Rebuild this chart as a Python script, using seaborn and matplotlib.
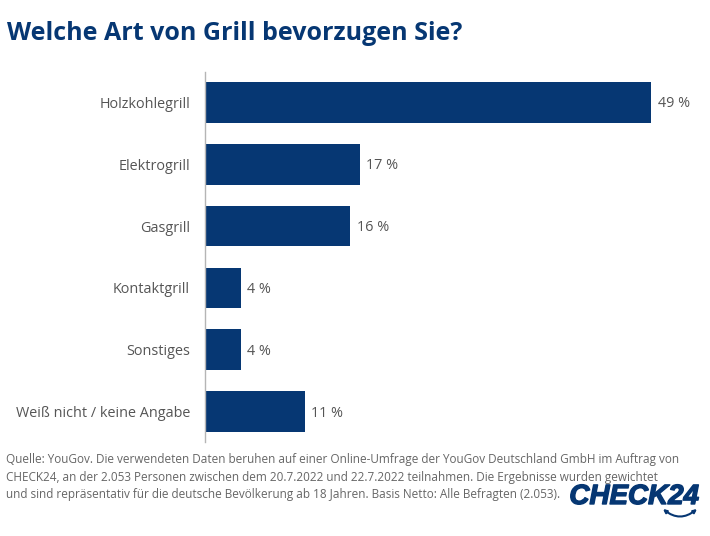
import matplotlib
matplotlib.use("Agg")
import matplotlib.pyplot as plt
import matplotlib.patheffects as pe
from matplotlib.patches import FancyArrowPatch
import pandas as pd
import seaborn as sns

kategorien = ["Holzkohlegrill", "Elektrogrill", "Gasgrill", "Kontaktgrill", "Sonstiges", "Weiß nicht / keine Angabe"]
anteile = [49, 17, 16, 4, 4, 11]
titel = "Welche Art von Grill bevorzugen Sie?"
quelle = [
    "Quelle: YouGov. Die verwendeten Daten beruhen auf einer Online-Umfrage der YouGov Deutschland GmbH im Auftrag von",
    "CHECK24, an der 2.053 Personen zwischen dem 20.7.2022 und 22.7.2022 teilnahmen. Die Ergebnisse wurden gewichtet",
    "und sind repräsentativ für die deutsche Bevölkerung ab 18 Jahren. Basis Netto: Alle Befragten (2.053).",
]

BLAU = "#063773"
GRAU = "#555555"

sns.set_style("white")
plt.rcParams["font.family"] = ["Open Sans", "DejaVu Sans"]

daten = pd.DataFrame({"kategorie": kategorien, "anteil": anteile})

B, H = 710, 536
fig = plt.figure(figsize=(B / 100, H / 100), dpi=100)
ax = fig.add_axes([204.5 / B, 1 - 442 / H, (B - 204.5) / B, 370 / H])
sns.barplot(data=daten, y="kategorie", x="anteil", color=BLAU, saturation=1, width=0.66, linewidth=0, ax=ax)

ax.set_xlim(0, (B - 204.5) / 9.12)
ax.set_ylim(5.49, -0.49)
ax.set_xlabel("")
ax.set_ylabel("")
ax.xaxis.set_visible(False)
ax.tick_params(axis="y", length=0, pad=10.5, labelsize=10.4, labelcolor=GRAU)
ax.patch.set_alpha(0)
sns.despine(ax=ax, top=True, right=True, bottom=True)
ax.spines["left"].set_color("#b5b5b5")
ax.spines["left"].set_linewidth(1.0)

for i, wert in enumerate(anteile):
    ax.annotate(f"{wert} %", (wert, i), xytext=(4.5, -1), textcoords="offset points",
                va="center", ha="left", fontsize=10.4, color=GRAU)

fig.text(7 / B, 1 - 33 / H, titel, fontsize=18, fontweight="bold", color=BLAU, va="center", ha="left")

for zeile, y in zip(quelle, [459.5, 477.5, 494.5]):
    fig.text(6 / B, 1 - y / H, zeile, fontsize=8.5, color="#666666", va="center", ha="left")

# Logo
fig.text(634 / B, 1 - 497 / H, "CHECK24", fontsize=20, fontweight="bold", fontstyle="italic",
         family="Liberation Sans", color=BLAU, va="center", ha="center",
         path_effects=[pe.withStroke(linewidth=1.0, foreground=BLAU)])
bogen = FancyArrowPatch((663 / B, 1 - 509 / H), (697 / B, 1 - 509 / H), transform=fig.transFigure,
                        connectionstyle="arc3,rad=0.4", arrowstyle="<|-|>", mutation_scale=5,
                        shrinkA=0, shrinkB=0, color=BLAU, linewidth=1.5)
fig.add_artist(bogen)

fig.savefig("out.png", dpi=100, facecolor="white")
